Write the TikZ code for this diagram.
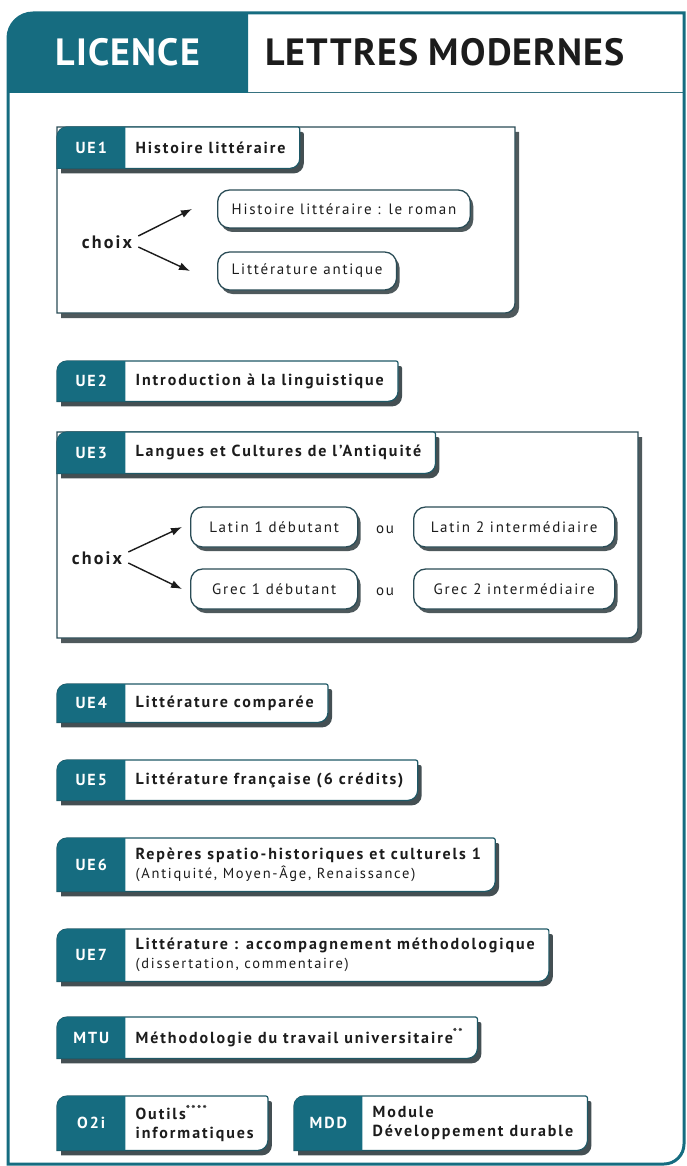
\documentclass[tikz,border=0pt]{standalone}
\usepackage{fontspec}
\setmainfont{PT Sans}[LetterSpace=12]
\newfontfamily\headfont{PT Sans}[LetterSpace=3]
\usetikzlibrary{arrows.meta,
                calc,
                positioning,
                shadows,
                backgrounds}
\definecolor{ue_teal}{RGB}{22,108,128}
\definecolor{tab_line}{RGB}{30,88,102}
\definecolor{box_line}{RGB}{42,76,86}
\definecolor{shade_c}{RGB}{48,60,64}
\definecolor{ink}{RGB}{28,28,28}
\newcommand{\uesub}[1]{{\mdseries\fontsize{14.5}{17}\selectfont #1}}
% tab: name, x, top, height, code, title
\newcommand{\uetab}[6]{%
  \node[uecode, minimum height=#4pt, anchor=north west] (#1c) at (#2,-#3) {#5};
  \node[uetext, anchor=west] (#1) at ([xshift=10pt]#1c.east) {#6};
  \coordinate (#1ne) at (#1.east |- #1c.north);
  \coordinate (#1se) at (#1.east |- #1c.south);
  \begin{scope}[on background layer]
    \filldraw[tabshape] (#1c.south west) -- ([yshift=-10pt]#1c.north west)
      arc[start angle=180, end angle=90, radius=10pt] -- ([xshift=12pt]#1ne)
      arc[start angle=90, end angle=0, radius=2pt]
      -- ([xshift=14pt, yshift=10pt]#1se) arc[start angle=0, end angle=-90, radius=10pt] -- cycle;
    \fill[ue_teal] (#1c.south west) -- ([yshift=-10pt]#1c.north west)
      arc[start angle=180, end angle=90, radius=10pt] -- (#1c.north east) -- (#1c.south east) -- cycle;
  \end{scope}
}

\begin{document}
\begin{tikzpicture}[
			x=1pt, y=1pt,
			frameline/.style = {draw=ue_teal, line width=3pt},
			headtext/.style = {font=\headfont\bfseries\fontsize{38}{38}\selectfont, inner sep=0pt},
			uecode/.style = {text=white, font=\bfseries\fontsize{16}{16}\selectfont, minimum width=68pt, inner sep=0pt},
			uetext/.style = {text=ink, font=\bfseries\fontsize{16}{19}\selectfont, align=left, inner sep=0pt},
			tabshape/.style = {fill=white, draw=tab_line, line width=1.2pt,
				drop shadow={shadow xshift=4pt, shadow yshift=-5pt, fill=shade_c, opacity=.9}},
			groupbox/.style = {fill=white, draw=box_line, line width=1.2pt,
				drop shadow={shadow xshift=4pt, shadow yshift=-5pt, fill=shade_c, opacity=.85}},
			optbox/.style = {draw=box_line, line width=1.3pt, fill=white, rounded corners=12pt,
				minimum height=38pt, inner xsep=14pt, text=ink, font=\fontsize{15}{16}\selectfont,
				drop shadow={shadow xshift=3pt, shadow yshift=-4pt, fill=shade_c, opacity=.85}},
			choix/.style = {text=ink, font=\bfseries\fontsize{18}{18}\selectfont, inner sep=0pt},
			ou/.style = {text=ink, font=\fontsize{15}{16}\selectfont, inner sep=0pt},
			choixarrow/.style = {-{Latex[length=11pt,width=8pt]}, line width=1.4pt, draw=ink},
			]
			\useasboundingbox (0,0) rectangle (687,-1166);
			% frame and header
			\fill[ue_teal] (8,-93) -- (8,-38) arc[start angle=180, end angle=90, radius=25pt] -- (248,-13) -- (248,-93) -- cycle;
			\draw[draw=ue_teal!70!gray, line width=1pt] (248,-93) -- (684,-93);
			\draw[frameline] (8,-1164) -- (8,-38) arc[start angle=180, end angle=90, radius=25pt]
				-- (684,-13) -- (684,-1144) arc[start angle=0, end angle=-90, radius=20pt] -- cycle;
			\node[headtext, text=white] (licence) at (128,-52) {LICENCE};
			\node[headtext, text=ink, anchor=west] (lettres) at (265,-52) {LETTRES MODERNES};

			% UE1
			\begin{scope}[on background layer]
				\filldraw[groupbox] (57,-127) -- (515,-127) -- (515,-303)
					arc[start angle=0, end angle=-90, radius=10pt] -- (57,-313) -- cycle;
			\end{scope}
			\uetab{ue1}{57}{127}{41}{UE1}{Histoire littéraire}
			\node[choix] (choix1) at (107,-242) {choix};
			\node[optbox, anchor=west] (roman) at (217,-209) {Histoire littéraire : le roman};
			\node[optbox, anchor=west] (antique) at (217,-271) {Littérature antique};
			\draw[choixarrow] ([shift={(6pt,6pt)}]choix1.east) -- ([xshift=-25pt]roman.west);
			\draw[choixarrow] ([shift={(6pt,-5pt)}]choix1.east) -- ([xshift=-27pt]antique.west);

			\uetab{ue2}{57}{361}{40}{UE2}{Introduction à la linguistique}

			% UE3
			\begin{scope}[on background layer]
				\filldraw[groupbox] (57,-432) -- (638,-432) -- (638,-628)
					arc[start angle=0, end angle=-90, radius=10pt] -- (57,-638) -- cycle;
			\end{scope}
			\uetab{ue3}{57}{432}{41}{UE3}{Langues et Cultures de l’Antiquité}
			\node[choix] (choix2) at (97,-558) {choix};
			\node[optbox, anchor=west, minimum width=167pt, minimum height=40pt] (latin1) at (190,-527) {Latin 1 débutant};
			\node[optbox, anchor=west, minimum width=167pt, minimum height=40pt] (grec1) at (190,-589) {Grec 1 débutant};
			\node[optbox, anchor=west, minimum width=201pt, minimum height=40pt] (latin2) at (413,-527) {Latin 2 intermédiaire};
			\node[optbox, anchor=west, minimum width=201pt, minimum height=40pt] (grec2) at (413,-589) {Grec 2 intermédiaire};
			\node[ou] (ou1) at (385,-530) {ou};
			\node[ou] (ou2) at (385,-592) {ou};
			\draw[choixarrow] ([shift={(6pt,6pt)}]choix2.east) -- ([xshift=-8pt]latin1.west);
			\draw[choixarrow] ([shift={(6pt,-5pt)}]choix2.east) -- ([xshift=-8pt]grec1.west);

			\uetab{ue4}{57}{684}{38}{UE4}{Littérature comparée}
			\uetab{ue5}{57}{760}{40}{UE5}{Littérature française (6 crédits)}
			\uetab{ue6}{57}{838}{53}{UE6}{Repères spatio-historiques et culturels 1\\\uesub{(Antiquité, Moyen-Âge, Renaissance)}}
			\uetab{ue7}{57}{929}{52}{UE7}{Littérature : accompagnement méthodologique\\\uesub{(dissertation, commentaire)}}
			\uetab{mtu}{57}{1017}{41}{MTU}{Méthodologie du travail universitaire\textsuperscript{**}}
			\uetab{otwoi}{57}{1096}{54}{O2i}{Outils\textsuperscript{****}\\informatiques}
			\uetab{mdd}{294}{1096}{54}{MDD}{Module\\Développement durable}
		\end{tikzpicture}
\end{document}
